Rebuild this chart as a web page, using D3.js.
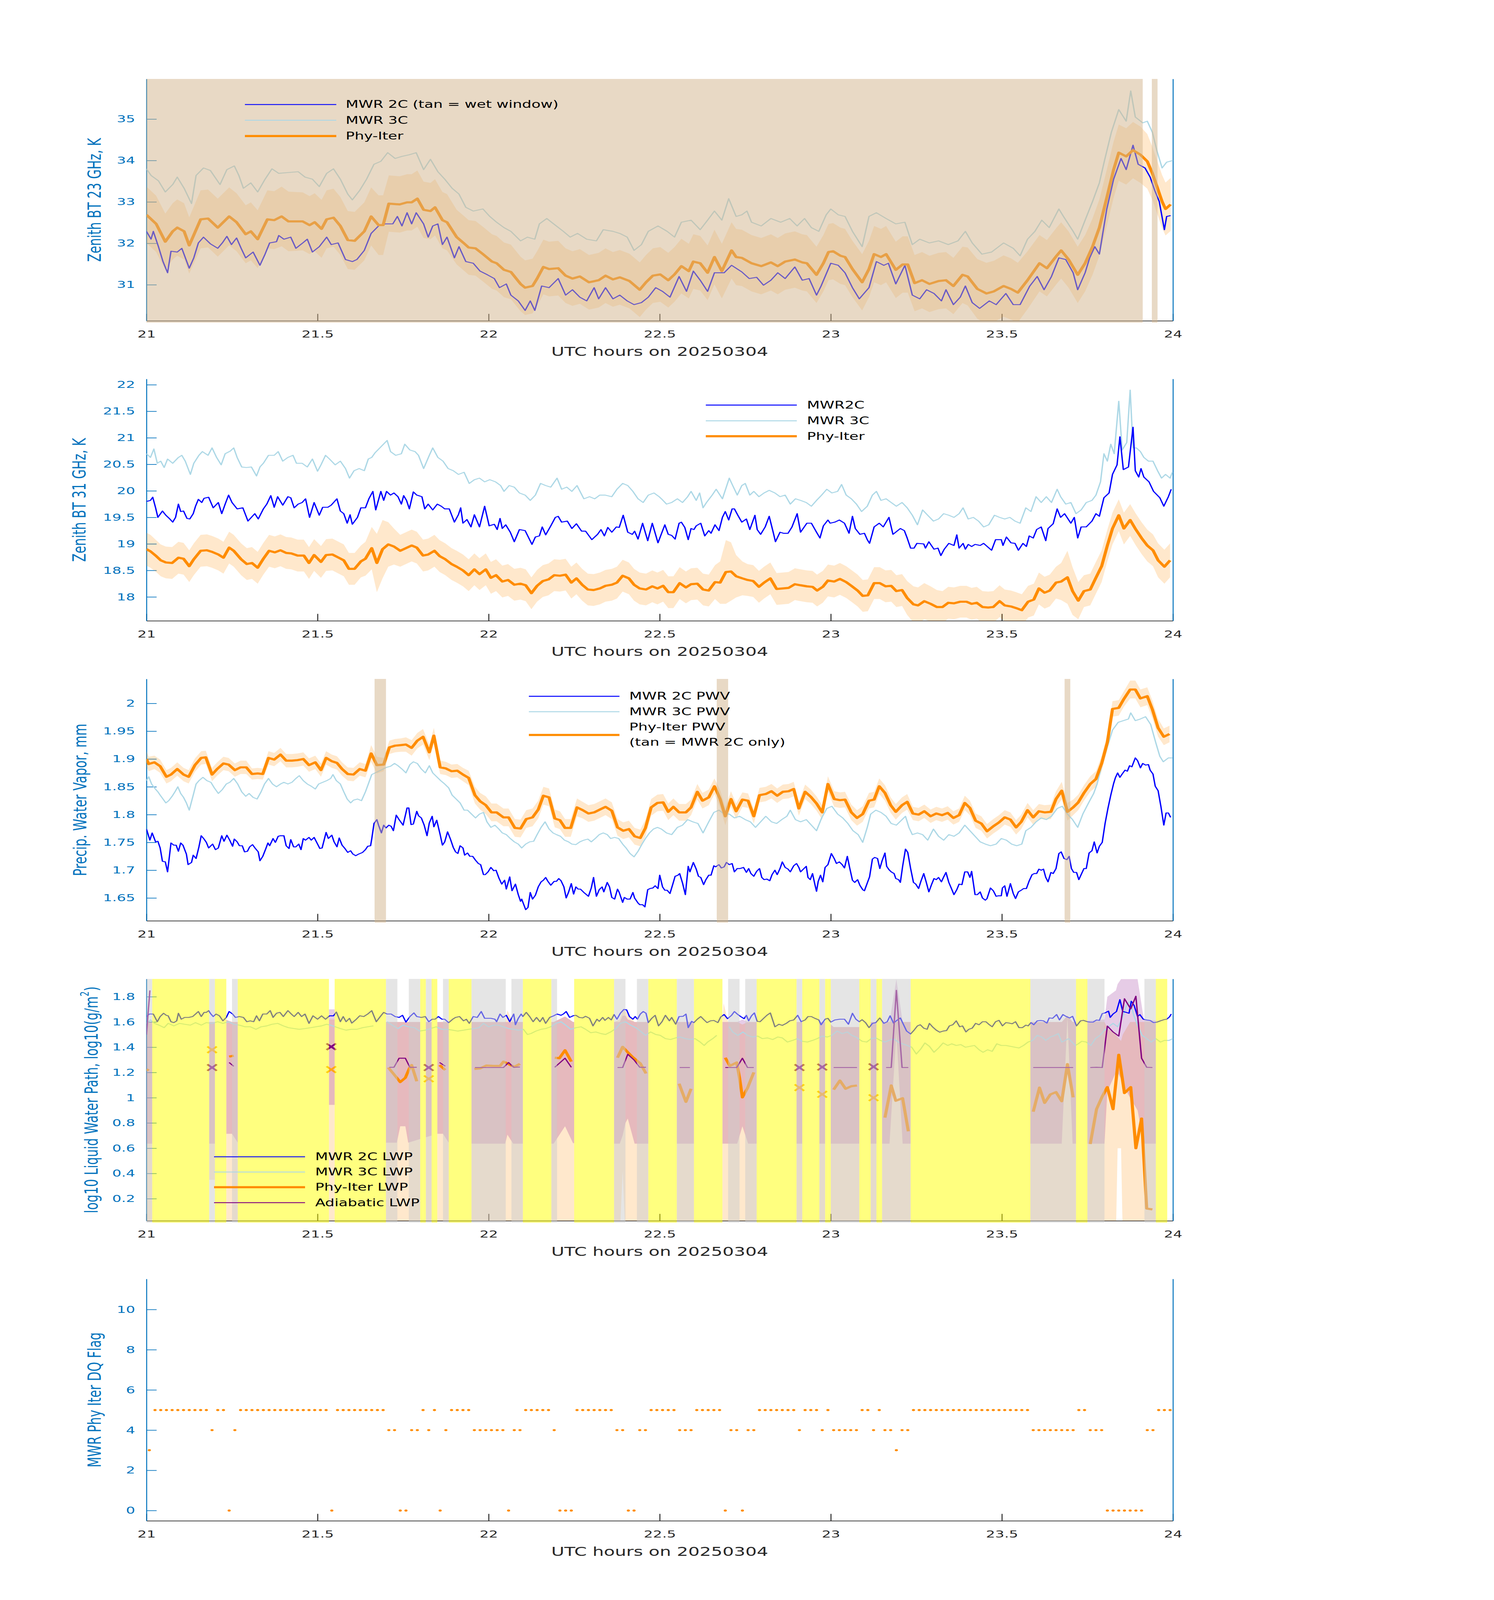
<!DOCTYPE html>
<html>
<head>
<meta charset="utf-8">
<script src="https://cdn.jsdelivr.net/npm/d3@7"></script>
<style>
  html, body { margin: 0; padding: 0; background: #fff; overflow: hidden; }
  svg { display: block; }
</style>
</head>
<body>
<div id="chart"></div>
<script>
// times are minutes after 21:00 UTC on 20250304

const xTicks = [21, 21.5, 22, 22.5, 23, 23.5, 24];

// ---- panel 1: 23 GHz BT ----
const p1Mwr3c = [[0,33.80],[0.8,33.64],[2.1,33.51],[3.3,33.24],[4.6,33.42],[5.4,33.60],[6.6,33.33],[7.9,32.96],[8.7,33.64],[10.0,33.82],[11.2,33.76],[12.9,33.42],[14.1,33.78],[15.4,33.87],[16.2,33.64],[17.0,33.33],[18.3,33.46],[19.5,33.24],[20.8,33.55],[22.0,33.80],[23.2,33.69],[24.9,33.71],[26.6,33.73],[27.8,33.60],[29.1,33.55],[30.3,33.37],[31.6,33.69],[32.8,33.80],[34.0,33.55],[35.3,33.19],[36.1,33.05],[37.4,33.28],[38.6,33.55],[39.9,33.91],[41.1,33.98],[42.3,34.19],[43.6,34.05],[44.8,34.10],[46.1,34.14],[47.3,34.19],[48.6,33.78],[49.8,34.03],[51.1,33.73],[52.3,33.55],[53.6,33.33],[54.8,33.19],[56.0,32.87],[57.3,32.78],[59.0,32.83],[60.2,32.65],[61.4,32.51],[62.7,32.38],[63.9,32.29],[65.6,32.06],[66.8,32.15],[68.1,32.10],[68.9,32.47],[70.2,32.60],[71.4,32.47],[73.1,32.29],[74.3,32.15],[75.6,32.24],[77.2,32.10],[78.9,32.06],[80.1,32.33],[81.8,32.29],[83.0,32.24],[84.3,32.15],[85.5,31.83],[86.8,31.97],[88.0,32.29],[89.7,32.42],[91.3,32.29],[92.6,32.15],[93.8,32.51],[95.5,32.56],[97.1,32.33],[98.4,32.56],[99.6,32.78],[100.9,32.56],[102.1,33.08],[103.4,32.65],[104.4,32.69],[105.3,32.78],[106.1,32.51],[107.8,32.42],[109.5,32.60],[111.2,32.51],[112.8,32.60],[114.1,32.42],[115.4,32.60],[116.6,32.38],[117.9,32.29],[119.2,32.69],[120.0,32.83],[121.3,32.69],[122.5,32.65],[123.8,32.29],[125.5,31.92],[126.7,32.65],[128.0,32.74],[129.7,32.60],[131.4,32.47],[133.0,32.51],[134.3,31.97],[135.6,32.10],[137.3,32.01],[138.9,32.06],[140.6,31.97],[142.3,32.06],[143.6,32.29],[144.8,32.01],[146.5,31.74],[148.2,31.79],[150.3,32.01],[152.0,31.88],[153.2,31.70],[154.5,32.10],[155.8,32.29],[157.0,32.56],[158.3,32.38],[160.0,32.83],[160.8,32.65],[162.5,32.29],[163.3,32.10],[164.6,32.56],[165.9,33.01],[167.1,33.46],[168.0,34.00],[169.2,34.68],[170.5,35.23],[171.8,34.95],[172.6,35.68],[173.4,35.05],[174.7,34.91],[175.5,34.95],[176.4,34.68],[177.2,34.23],[178.1,33.82],[178.9,33.96],[180.0,34.00]];

const p1Mwr2c = [[0,32.29],[0.8,32.10],[1.2,32.29],[2.1,31.92],[2.9,31.56],[3.7,31.29],[4.3,31.81],[5.4,31.79],[6.2,31.88],[7.5,31.40],[8.3,31.65],[9.1,32.01],[10.0,32.15],[11.2,31.99],[12.5,31.88],[13.3,32.01],[14.1,32.17],[14.9,31.97],[15.8,32.13],[16.6,31.88],[17.4,31.65],[18.7,31.79],[19.9,31.47],[20.8,31.74],[21.6,32.01],[22.8,32.04],[23.2,32.19],[24.1,32.10],[25.3,32.15],[26.2,31.88],[27.4,32.01],[28.2,32.10],[29.1,31.79],[30.3,31.92],[31.6,32.15],[32.4,31.97],[33.6,32.01],[34.9,31.61],[36.1,31.56],[36.9,31.61],[38.2,31.83],[39.4,32.24],[40.7,32.42],[41.9,32.47],[43.2,32.47],[44.0,32.65],[44.8,32.42],[45.7,32.74],[46.5,32.47],[47.3,32.74],[48.6,32.47],[49.4,32.15],[50.2,32.42],[51.1,32.47],[51.9,31.97],[52.7,32.15],[54.0,31.65],[54.8,31.92],[56.0,31.56],[57.3,31.52],[58.5,31.33],[59.8,31.24],[61.0,31.15],[61.9,30.93],[63.1,31.02],[63.9,30.75],[65.2,30.61],[66.4,30.38],[67.3,30.61],[68.1,30.38],[69.3,30.97],[70.6,30.93],[72.2,31.15],[73.5,30.75],[74.7,30.88],[76.0,30.70],[77.2,30.61],[78.5,30.93],[79.3,30.66],[80.5,30.93],[81.8,30.66],[83.0,30.75],[84.3,30.61],[85.5,30.52],[86.8,30.57],[88.0,30.70],[89.3,30.93],[90.5,30.84],[91.8,30.70],[93.4,31.20],[94.7,30.84],[95.9,31.33],[97.1,31.11],[98.4,30.84],[99.6,31.29],[101.3,31.29],[102.6,31.47],[104.4,31.31],[105.7,31.15],[107.0,31.18],[108.2,30.99],[109.5,31.11],[110.7,31.29],[112.0,31.15],[113.7,31.43],[115.0,31.11],[116.2,31.15],[117.5,30.75],[118.3,30.97],[120.0,31.52],[121.3,31.47],[122.5,31.29],[123.8,30.93],[125.0,30.66],[126.7,30.93],[128.0,31.56],[129.3,31.47],[130.1,31.52],[131.4,31.02],[133.0,31.47],[134.3,30.75],[135.6,30.66],[136.8,30.88],[138.1,30.79],[139.4,30.61],[140.2,30.88],[141.5,30.52],[142.7,30.70],[143.6,30.97],[144.8,30.57],[146.1,30.43],[147.8,30.61],[149.0,30.52],[150.7,30.79],[152.0,30.52],[153.2,30.52],[154.9,30.97],[156.2,31.20],[157.4,30.88],[158.7,31.20],[160.0,31.65],[161.2,31.61],[162.5,31.29],[163.3,30.88],[164.6,31.29],[165.4,31.65],[166.3,31.92],[167.1,31.74],[168.4,32.83],[169.6,33.55],[170.9,34.05],[171.8,33.78],[173.0,34.37],[173.9,33.91],[175.1,33.82],[176.0,33.60],[176.8,33.28],[177.6,33.01],[178.5,32.33],[178.9,32.65],[179.6,32.67]];

// [t, value, uncertainty]
const p1Phy = [[0,32.69,.68],[1.7,32.47,.68],[3.3,32.04,.68],[4.6,32.29,.68],[5.4,32.38,.68],[6.6,32.29,.68],[7.5,31.95,.68],[9.5,32.58,.70],[10.8,32.60,.70],[12.5,32.38,.70],[14.5,32.65,.70],[15.8,32.51,.70],[17.4,32.22,.70],[18.3,32.29,.70],[19.5,32.10,.70],[21.2,32.58,.70],[22.4,32.56,.70],[23.7,32.65,.72],[24.9,32.53,.72],[27.4,32.53,.70],[28.6,32.44,.70],[29.5,32.51,.70],[30.7,32.35,.70],[31.6,32.58,.70],[32.8,32.62,.70],[34.0,32.42,.70],[35.3,32.08,.70],[36.5,32.06,.70],[38.2,32.29,.70],[39.4,32.65,.70],[40.7,32.44,.72],[41.5,32.44,.72],[42.5,32.96,.68],[44.4,32.94,.68],[45.7,32.99,.68],[46.5,32.99,.68],[47.5,33.08,.68],[48.6,32.81,.68],[49.8,32.78,.68],[50.6,32.87,.68],[51.9,32.56,.68],[52.7,32.51,.68],[54.4,32.15,.66],[55.6,32.01,.66],[56.5,31.90,.66],[57.7,31.88,.66],[59.0,31.74,.66],[60.6,31.56,.66],[61.4,31.52,.66],[62.7,31.36,.66],[63.9,31.31,.66],[65.6,31.02,.66],[66.4,30.93,.66],[67.7,30.97,.66],[68.5,31.15,.66],[69.6,31.43,.66],[70.6,31.38,.66],[72.2,31.40,.66],[73.5,31.22,.66],[74.7,31.15,.66],[76.0,31.20,.66],[77.6,31.06,.66],[79.3,31.11,.66],[80.5,31.22,.66],[81.8,31.13,.66],[83.0,31.18,.66],[84.7,31.09,.66],[86.5,30.88,.66],[87.6,31.06,.66],[88.8,31.22,.66],[90.1,31.25,.66],[91.5,31.11,.66],[92.6,31.25,.66],[93.8,31.45,.66],[95.1,31.33,.66],[95.9,31.56,.66],[97.1,31.52,.66],[98.4,31.29,.66],[99.6,31.67,.66],[100.9,31.33,.66],[102.6,31.83,.68],[103.4,31.67,.68],[104.4,31.65,.68],[106.1,31.52,.68],[107.8,31.45,.68],[109.5,31.54,.68],[110.7,31.45,.68],[112.0,31.56,.68],[113.7,31.61,.68],[115.0,31.54,.68],[115.8,31.52,.68],[117.5,31.24,.68],[118.7,31.52,.68],[119.6,31.79,.68],[120.4,31.81,.68],[121.7,31.70,.68],[122.5,31.67,.68],[123.8,31.38,.68],[125.5,31.06,.68],[126.7,31.38,.68],[127.6,31.74,.68],[128.8,31.67,.68],[129.7,31.74,.68],[131.4,31.36,.68],[132.6,31.49,.68],[133.5,31.49,.68],[134.7,31.04,.68],[136.0,31.11,.68],[137.3,31.02,.68],[138.9,31.09,.68],[140.2,31.11,.68],[141.5,30.97,.68],[143.1,31.24,.68],[144.0,31.20,.70],[145.7,30.90,.72],[147.3,30.79,.74],[148.6,30.84,.74],[150.3,30.97,.74],[151.6,30.90,.74],[152.8,30.81,.72],[154.5,31.11,.70],[156.6,31.52,.68],[157.9,31.40,.68],[159.6,31.70,.68],[160.4,31.83,.68],[161.7,31.61,.68],[163.3,31.24,.68],[164.6,31.52,.68],[165.9,31.92,.68],[167.1,32.38,.68],[168.4,33.10,.68],[169.6,33.78,.68],[170.5,34.19,.68],[171.8,34.10,.68],[173.0,34.25,.68],[174.3,34.14,.68],[175.5,33.98,.66],[176.4,33.69,.64],[177.2,33.37,.64],[178.1,33.01,.64],[178.7,32.83,.64],[179.6,32.94,.64]];

const wetWindow = [[0, 174.7], [176.3, 177.3]];

// ---- panel 2: 31 GHz BT ----
const p2Mwr3c = [[0,20.70],[0.7,20.63],[1.3,20.79],[1.9,20.52],[2.5,20.56],[3.1,20.44],[3.7,20.60],[4.6,20.52],[5.6,20.63],[6.2,20.67],[6.8,20.56],[7.7,20.31],[8.3,20.52],[9.2,20.67],[9.8,20.74],[10.8,20.67],[11.5,20.81],[12.3,20.63],[13.1,20.49],[13.8,20.70],[14.7,20.75],[15.3,20.81],[15.9,20.63],[16.7,20.45],[17.5,20.44],[18.4,20.45],[19.3,20.28],[19.9,20.45],[20.5,20.52],[21.4,20.67],[22.4,20.67],[23.1,20.74],[23.9,20.56],[24.8,20.63],[25.7,20.67],[26.3,20.52],[27.3,20.52],[28.2,20.45],[29.1,20.60],[30.0,20.37],[30.6,20.49],[31.4,20.67],[32.1,20.60],[33.1,20.49],[34.0,20.56],[34.9,20.42],[35.6,20.24],[36.4,20.38],[37.3,20.42],[38.2,20.38],[38.9,20.60],[39.5,20.63],[40.1,20.72],[42.2,20.95],[42.8,20.74],[43.7,20.67],[44.7,20.70],[45.3,20.88],[46.2,20.77],[47.1,20.74],[47.7,20.67],[48.6,20.42],[49.6,20.67],[50.2,20.81],[51.1,20.63],[52.0,20.56],[52.9,20.42],[53.8,20.38],[54.7,20.31],[55.7,20.35],[56.6,20.14],[57.5,20.21],[58.4,20.24],[59.3,20.17],[60.2,20.21],[61.2,20.17],[62.1,20.10],[62.7,19.99],[63.6,20.10],[64.5,20.07],[65.4,19.96],[66.4,19.92],[67.3,19.82],[68.2,19.92],[69.1,20.14],[70.0,20.10],[70.9,20.07],[72.0,20.24],[72.8,20.03],[73.7,20.07],[74.6,19.99],[75.5,20.10],[76.7,19.85],[77.7,19.89],[78.6,19.85],[79.5,19.92],[80.4,19.92],[81.6,19.89],[82.5,20.03],[83.5,20.14],[84.4,20.10],[85.3,19.99],[86.2,19.85],[87.1,19.78],[88.0,19.92],[89.0,19.96],[89.9,19.89],[90.3,19.85],[91.2,19.75],[92.1,19.78],[93.1,19.85],[94.0,19.78],[94.9,19.89],[95.5,19.99],[96.4,19.82],[97.0,19.96],[97.6,19.68],[98.2,19.78],[99.2,19.92],[99.9,20.03],[101.0,19.85],[102.2,20.24],[102.8,20.10],[103.6,19.92],[104.4,20.10],[105.0,20.14],[105.8,19.92],[106.5,19.99],[107.4,19.89],[108.3,19.96],[109.2,20.01],[110.2,19.96],[111.1,19.89],[112.0,19.92],[112.9,19.75],[113.8,19.85],[114.7,19.82],[115.7,19.78],[116.6,19.71],[117.5,19.82],[118.4,19.92],[119.3,20.03],[120.2,19.96],[121.2,19.99],[121.9,20.12],[122.7,19.92],[123.6,19.85],[124.5,19.75],[125.4,19.61],[126.4,19.71],[127.3,19.92],[128.0,19.99],[128.8,19.82],[129.7,19.85],[130.6,19.78],[131.5,19.71],[132.5,19.78],[133.4,19.68],[134.3,19.54],[135.2,19.36],[136.1,19.64],[137.0,19.54],[138.0,19.43],[138.9,19.47],[139.8,19.57],[140.7,19.54],[141.6,19.50],[142.5,19.57],[143.2,19.68],[144.1,19.47],[145.0,19.50],[145.9,19.43],[146.8,19.32],[147.7,19.36],[148.7,19.54],[149.6,19.50],[150.5,19.47],[151.4,19.50],[152.3,19.43],[153.2,19.39],[154.2,19.68],[155.1,19.61],[156.0,19.89],[156.9,19.78],[157.8,19.89],[158.7,19.78],[159.7,20.03],[160.3,19.89],[161.2,19.75],[162.1,19.78],[163.0,19.57],[163.9,19.64],[164.8,19.78],[165.8,19.82],[166.5,19.92],[167.3,20.17],[167.9,20.70],[168.5,20.56],[169.1,20.88],[169.7,20.70],[170.5,21.69],[171.1,20.77],[171.9,20.91],[172.5,21.90],[173.0,20.81],[173.6,20.81],[174.3,20.74],[174.9,20.63],[175.7,20.56],[176.5,20.56],[177.3,20.38],[178.0,20.24],[178.7,20.31],[179.5,20.24],[179.9,20.35]];

const p2Mwr2c = [[0,19.80],[0.7,19.82],[1.1,19.88],[1.6,19.68],[2.0,19.50],[2.8,19.62],[3.4,19.54],[4.0,19.48],[4.6,19.41],[5.1,19.50],[5.6,19.75],[6.0,19.61],[6.5,19.62],[7.1,19.48],[7.6,19.47],[8.2,19.57],[8.6,19.71],[9.1,19.84],[9.7,19.78],[10.1,19.86],[10.9,19.88],[11.7,19.68],[12.6,19.78],[13.2,19.57],[13.8,19.75],[14.4,19.92],[15.0,19.78],[15.9,19.66],[16.9,19.68],[17.8,19.43],[18.4,19.50],[19.0,19.57],[19.6,19.47],[20.5,19.66],[21.1,19.75],[21.8,19.91],[22.4,19.69],[23.0,19.89],[23.9,19.73],[24.8,19.89],[25.3,19.87],[25.9,19.68],[26.6,19.75],[27.3,19.78],[27.9,19.85],[28.6,19.50],[29.4,19.78],[30.3,19.54],[30.9,19.69],[31.8,19.69],[32.4,19.73],[33.4,19.85],[34.0,19.62],[34.6,19.57],[35.2,19.39],[35.7,19.55],[36.1,19.37],[37.0,19.50],[37.6,19.68],[38.4,19.68],[39.0,19.85],[39.7,19.99],[40.2,19.64],[41.1,19.99],[41.6,19.82],[42.1,19.99],[42.8,19.92],[43.4,19.96],[44.1,19.89],[44.7,19.75],[45.1,19.91],[45.6,19.82],[46.1,19.66],[46.8,19.98],[47.4,19.92],[48.3,19.89],[48.8,19.66],[49.4,19.75],[50.2,19.64],[51.0,19.75],[51.7,19.71],[52.3,19.66],[53.1,19.66],[54.0,19.41],[54.7,19.55],[55.1,19.68],[55.5,19.39],[56.2,19.46],[56.9,19.32],[57.5,19.55],[58.4,19.32],[59.3,19.71],[60.1,19.34],[61.0,19.37],[61.5,19.27],[62.0,19.48],[62.4,19.29],[63.0,19.36],[63.8,19.22],[64.5,19.04],[65.4,19.27],[66.4,19.25],[67.6,18.99],[68.2,19.13],[68.9,19.15],[69.4,19.32],[70.0,19.17],[70.9,19.34],[71.7,19.50],[72.2,19.52],[72.8,19.41],[73.8,19.43],[74.6,19.29],[75.4,19.38],[76.3,19.24],[77.0,19.24],[78.1,19.08],[79.1,19.18],[79.7,19.27],[80.3,19.15],[80.9,19.31],[81.6,19.22],[82.4,19.32],[82.9,19.31],[83.6,19.54],[84.4,19.22],[85.2,19.18],[85.6,19.24],[86.2,19.09],[87.0,19.39],[87.9,19.06],[88.7,19.39],[89.7,19.02],[90.9,19.36],[91.5,19.18],[92.1,19.16],[92.7,19.09],[93.4,19.39],[93.8,19.41],[94.4,19.31],[95.0,19.08],[95.5,19.29],[96.0,19.27],[96.4,19.34],[97.2,19.39],[97.9,19.15],[98.6,19.25],[99.0,19.20],[99.7,19.36],[100.4,19.25],[101.0,19.50],[101.5,19.61],[102.1,19.45],[102.7,19.66],[103.1,19.66],[103.7,19.54],[104.4,19.41],[105.2,19.47],[105.8,19.27],[106.7,19.54],[107.1,19.27],[107.7,19.18],[108.5,19.32],[109.2,19.52],[109.9,19.22],[110.3,19.04],[111.1,19.22],[111.7,19.20],[112.5,19.20],[113.2,19.32],[114.1,19.57],[114.7,19.22],[115.8,19.39],[116.6,19.39],[117.5,19.22],[118.1,19.11],[118.7,19.34],[119.5,19.45],[119.9,19.39],[120.7,19.41],[121.5,19.45],[122.4,19.39],[123.2,19.20],[123.8,19.52],[124.3,19.29],[125.1,19.18],[125.9,19.20],[126.4,19.08],[126.8,19.01],[127.6,19.32],[128.5,19.39],[129.2,19.32],[130.2,19.50],[130.9,19.18],[132.2,19.29],[132.9,19.25],[133.4,19.11],[134.0,18.92],[134.6,18.92],[135.1,19.01],[136.3,19.00],[136.6,18.92],[137.2,19.04],[138.1,18.90],[138.8,18.92],[139.3,18.78],[139.9,18.90],[140.7,19.01],[141.6,18.97],[142.1,19.17],[142.5,18.92],[143.2,19.01],[143.6,18.90],[144.1,18.99],[144.7,18.95],[145.3,18.99],[146.2,18.97],[146.8,19.01],[148.2,18.88],[148.9,19.08],[149.9,19.08],[150.2,18.97],[150.8,19.13],[151.6,19.02],[152.3,19.01],[152.9,18.88],[153.7,19.01],[154.3,18.95],[154.8,19.15],[155.5,19.11],[156.1,19.27],[156.9,19.32],[157.7,19.06],[158.1,19.29],[159.0,19.38],[159.7,19.66],[160.3,19.50],[161.0,19.57],[162.1,19.39],[162.7,19.50],[163.3,19.11],[163.9,19.32],[164.8,19.32],[165.8,19.43],[166.5,19.57],[167.1,19.52],[167.9,19.87],[168.8,19.96],[169.4,20.31],[170.2,20.49],[170.7,21.02],[171.3,20.40],[172.2,20.45],[173.0,21.20],[173.4,20.38],[174.0,20.26],[174.4,20.42],[174.9,20.26],[175.8,20.17],[176.6,19.99],[177.7,19.87],[178.4,19.71],[179.2,19.89],[179.7,20.03]];

const p2Phy = [[0,18.90,.31],[0.7,18.86,.31],[1.6,18.78,.3],[2.5,18.69,.3],[3.4,18.65,.3],[4.5,18.64,.3],[5.6,18.74,.3],[6.5,18.72,.3],[7.5,18.58,.3],[8.3,18.71,.3],[9.5,18.87,.3],[10.6,18.88,.3],[11.5,18.85,.3],[12.6,18.80,.3],[13.5,18.74,.3],[14.5,18.93,.3],[15.3,18.87,.3],[16.6,18.71,.3],[17.6,18.62,.3],[18.5,18.64,.3],[19.5,18.55,.3],[20.5,18.72,.3],[21.5,18.87,.3],[22.5,18.84,.3],[23.5,18.88,.3],[24.5,18.83,.3],[25.4,18.82,.3],[26.5,18.78,.3],[27.6,18.78,.3],[28.5,18.64,.3],[29.4,18.79,.3],[30.6,18.66,.3],[31.5,18.79,.3],[32.6,18.80,.3],[33.7,18.74,.3],[34.6,18.69,.3],[35.5,18.53,.3],[36.5,18.53,.3],[37.6,18.67,.3],[38.4,18.72,.32],[39.5,18.92,.4],[40.4,18.64,.55],[41.4,18.90,.55],[42.4,18.99,.42],[43.4,18.95,.34],[44.5,18.87,.3],[45.5,18.92,.3],[46.5,18.97,.3],[47.4,18.93,.3],[48.5,18.78,.3],[49.4,18.80,.3],[50.5,18.87,.3],[51.4,18.77,.3],[52.4,18.71,.3],[53.5,18.62,.3],[54.4,18.57,.3],[55.5,18.50,.3],[56.5,18.41,.3],[57.5,18.52,.3],[58.4,18.43,.3],[59.5,18.52,.3],[60.4,18.36,.3],[61.3,18.41,.3],[62.4,18.29,.3],[63.4,18.32,.3],[64.5,18.23,.3],[65.6,18.25,.3],[66.5,18.22,.3],[67.5,18.07,.3],[68.5,18.21,.3],[69.5,18.30,.3],[70.5,18.33,.3],[71.5,18.41,.3],[72.5,18.40,.3],[73.5,18.42,.3],[74.5,18.27,.3],[75.4,18.35,.3],[76.4,18.23,.3],[77.4,18.14,.3],[78.4,18.13,.3],[79.5,18.16,.3],[80.5,18.21,.3],[81.6,18.23,.3],[82.5,18.27,.3],[83.5,18.40,.3],[84.6,18.35,.3],[85.5,18.23,.3],[86.5,18.16,.3],[87.6,18.14,.3],[88.7,18.20,.3],[89.6,18.16,.3],[90.6,18.21,.3],[91.5,18.09,.3],[92.4,18.09,.3],[93.5,18.26,.3],[94.6,18.18,.3],[95.5,18.24,.3],[96.6,18.25,.3],[97.6,18.14,.3],[98.6,18.12,.3],[99.7,18.28,.32],[100.6,18.27,.4],[101.6,18.47,.6],[102.5,18.48,.55],[103.4,18.39,.4],[104.5,18.35,.32],[105.4,18.32,.3],[106.4,18.30,.3],[107.4,18.19,.3],[108.3,18.27,.3],[109.4,18.35,.3],[110.5,18.15,.3],[111.5,18.16,.3],[112.6,18.17,.3],[113.7,18.24,.3],[114.7,18.22,.3],[115.8,18.20,.3],[116.8,18.19,.3],[117.6,18.12,.3],[118.6,18.19,.3],[119.5,18.31,.3],[120.6,18.29,.3],[121.6,18.34,.3],[122.7,18.28,.3],[123.6,18.21,.3],[124.7,18.12,.3],[125.6,18.02,.3],[126.5,18.03,.3],[127.6,18.26,.3],[128.6,18.26,.3],[129.6,18.20,.3],[130.6,18.21,.3],[131.5,18.11,.3],[132.5,18.13,.3],[133.4,17.98,.32],[134.5,17.86,.34],[135.3,17.84,.34],[136.4,17.92,.34],[137.5,17.87,.33],[138.6,17.81,.32],[139.6,17.81,.3],[140.6,17.89,.3],[141.6,17.88,.3],[142.7,17.91,.3],[143.8,17.91,.3],[144.7,17.87,.3],[145.6,17.89,.3],[146.6,17.81,.3],[147.6,17.80,.3],[148.5,17.81,.3],[149.6,17.92,.3],[150.5,17.84,.3],[151.6,17.82,.3],[152.5,17.79,.3],[153.5,17.75,.3],[154.6,17.91,.3],[155.6,17.95,.3],[156.5,18.16,.3],[157.5,18.08,.3],[158.4,18.12,.3],[159.5,18.27,.3],[160.4,18.29,.35],[161.5,18.37,.5],[162.4,18.11,.45],[163.4,17.93,.35],[164.4,18.11,.3],[165.5,18.14,.3],[166.4,18.34,.3],[167.5,18.58,.3],[168.5,18.97,.3],[169.4,19.29,.3],[170.5,19.54,.3],[171.4,19.29,.3],[172.5,19.45,.3],[173.5,19.27,.3],[174.5,19.11,.3],[175.5,18.97,.3],[176.5,18.88,.3],[177.4,18.69,.32],[178.5,18.57,.32],[179.5,18.69,.32]];

// ---- panel 3: PWV ----
const p3Mwr2c = [[0,1.774],[0.6,1.754],[1.0,1.767],[1.6,1.751],[2.0,1.752],[2.4,1.740],[2.8,1.716],[3.3,1.715],[3.7,1.697],[4.3,1.749],[4.8,1.745],[5.2,1.745],[5.6,1.734],[6.0,1.749],[6.4,1.745],[7.0,1.729],[7.3,1.710],[7.9,1.714],[8.2,1.727],[8.7,1.721],[9.2,1.742],[9.6,1.762],[10.1,1.756],[10.5,1.750],[10.9,1.740],[11.6,1.747],[12.1,1.737],[12.6,1.740],[13.2,1.762],[13.6,1.752],[14.1,1.763],[14.6,1.754],[15.1,1.743],[15.4,1.756],[15.9,1.751],[16.3,1.744],[16.8,1.744],[17.2,1.733],[17.7,1.734],[18.1,1.742],[18.6,1.746],[19.1,1.739],[19.6,1.733],[19.9,1.717],[20.4,1.725],[20.9,1.738],[21.3,1.749],[21.6,1.744],[22.2,1.757],[22.6,1.750],[23.1,1.761],[23.5,1.762],[24.1,1.762],[24.5,1.744],[25.0,1.739],[25.3,1.755],[25.8,1.742],[26.2,1.742],[26.7,1.747],[27.1,1.737],[27.5,1.757],[27.9,1.754],[28.5,1.759],[28.9,1.754],[29.4,1.759],[29.9,1.749],[30.4,1.739],[30.8,1.740],[31.5,1.768],[31.9,1.757],[32.5,1.763],[32.9,1.751],[33.4,1.742],[33.8,1.758],[34.3,1.745],[34.8,1.739],[35.3,1.732],[35.8,1.735],[36.2,1.729],[36.7,1.726],[37.2,1.729],[37.9,1.732],[38.4,1.737],[38.8,1.743],[39.3,1.744],[39.5,1.756],[39.9,1.784],[40.4,1.791],[40.7,1.781],[41.2,1.767],[41.6,1.781],[42.0,1.776],[42.5,1.781],[42.9,1.779],[43.3,1.771],[43.8,1.799],[44.3,1.791],[45.0,1.781],[45.7,1.812],[46.0,1.812],[46.4,1.782],[46.8,1.783],[47.4,1.806],[47.7,1.798],[48.2,1.794],[48.7,1.781],[49.2,1.762],[49.6,1.785],[50.1,1.797],[50.4,1.778],[50.9,1.790],[51.5,1.764],[51.9,1.745],[52.3,1.751],[52.8,1.769],[53.3,1.756],[53.8,1.741],[54.2,1.733],[54.6,1.730],[55.0,1.744],[55.5,1.740],[55.8,1.727],[56.3,1.731],[56.7,1.725],[57.2,1.725],[57.7,1.718],[58.2,1.712],[58.6,1.710],[59.1,1.692],[59.4,1.692],[59.9,1.697],[60.4,1.705],[60.9,1.699],[61.3,1.700],[61.8,1.686],[62.3,1.675],[62.8,1.682],[63.1,1.666],[63.7,1.688],[64.1,1.663],[64.7,1.675],[65.2,1.656],[65.6,1.644],[65.8,1.648],[66.5,1.629],[66.9,1.633],[67.3,1.660],[67.7,1.648],[68.2,1.655],[68.7,1.670],[69.2,1.679],[69.6,1.682],[70.0,1.687],[70.4,1.680],[70.9,1.673],[71.5,1.680],[71.9,1.680],[72.3,1.685],[72.7,1.681],[73.2,1.670],[73.6,1.650],[74.0,1.660],[74.5,1.676],[74.9,1.657],[75.3,1.670],[75.7,1.666],[76.1,1.666],[76.7,1.660],[77.5,1.653],[78.0,1.668],[78.4,1.687],[78.9,1.653],[79.4,1.665],[79.9,1.670],[80.2,1.661],[80.8,1.678],[81.2,1.670],[81.6,1.651],[82.1,1.648],[82.6,1.666],[82.9,1.660],[83.5,1.642],[83.8,1.651],[84.3,1.648],[84.8,1.648],[85.3,1.660],[85.6,1.650],[86.2,1.641],[86.5,1.638],[87.0,1.638],[87.4,1.634],[87.9,1.665],[88.3,1.667],[88.8,1.668],[89.2,1.672],[89.7,1.667],[90.0,1.691],[90.5,1.670],[90.9,1.664],[91.3,1.664],[91.8,1.658],[92.3,1.675],[92.7,1.689],[93.2,1.691],[93.5,1.694],[94.0,1.677],[94.5,1.656],[95.0,1.707],[95.3,1.697],[95.9,1.714],[96.4,1.702],[96.8,1.689],[97.2,1.687],[97.7,1.674],[98.1,1.683],[98.6,1.691],[99.0,1.691],[99.5,1.708],[99.8,1.706],[100.4,1.710],[100.8,1.704],[101.3,1.706],[101.7,1.714],[102.2,1.710],[102.7,1.712],[103.1,1.697],[103.6,1.703],[104.1,1.703],[104.7,1.705],[105.2,1.696],[105.6,1.703],[106.0,1.694],[106.5,1.689],[107.0,1.698],[107.5,1.703],[107.9,1.687],[108.3,1.683],[108.8,1.684],[109.3,1.681],[109.7,1.692],[110.2,1.700],[110.6,1.692],[111.1,1.703],[111.5,1.715],[112.0,1.705],[112.5,1.702],[112.9,1.697],[113.5,1.708],[114.0,1.712],[114.4,1.705],[114.7,1.697],[115.2,1.702],[115.7,1.707],[116.0,1.687],[116.4,1.683],[116.8,1.694],[117.2,1.675],[117.5,1.662],[117.8,1.680],[118.2,1.691],[118.6,1.679],[119.0,1.705],[119.5,1.710],[120.1,1.730],[120.6,1.721],[121.0,1.712],[121.5,1.715],[122.0,1.710],[122.4,1.704],[122.9,1.725],[123.3,1.705],[123.8,1.682],[124.2,1.678],[124.7,1.683],[125.1,1.673],[125.6,1.665],[125.9,1.663],[126.4,1.677],[126.8,1.688],[127.3,1.720],[127.7,1.723],[128.2,1.721],[128.6,1.703],[129.0,1.717],[129.5,1.731],[129.8,1.707],[130.2,1.701],[130.6,1.697],[131.1,1.694],[131.4,1.685],[131.9,1.683],[132.2,1.678],[132.6,1.707],[133.1,1.738],[133.5,1.732],[134.0,1.703],[134.5,1.678],[134.9,1.675],[135.4,1.667],[135.8,1.680],[136.3,1.694],[136.7,1.680],[137.2,1.661],[137.7,1.675],[138.1,1.685],[138.5,1.683],[138.9,1.687],[139.4,1.679],[139.8,1.688],[140.2,1.696],[140.7,1.678],[141.2,1.666],[141.6,1.656],[142.1,1.665],[142.5,1.675],[143.0,1.674],[143.5,1.697],[144.0,1.697],[144.4,1.687],[144.7,1.698],[145.3,1.656],[145.7,1.656],[146.2,1.661],[146.6,1.650],[147.1,1.646],[147.4,1.649],[148.0,1.668],[148.5,1.663],[149.0,1.653],[149.4,1.654],[149.9,1.654],[150.1,1.668],[150.5,1.672],[150.9,1.653],[151.5,1.676],[152.0,1.658],[152.4,1.649],[152.9,1.661],[153.4,1.664],[153.8,1.667],[154.3,1.667],[154.8,1.681],[155.3,1.692],[155.7,1.694],[156.1,1.694],[156.5,1.702],[156.9,1.700],[157.3,1.702],[157.7,1.687],[158.1,1.679],[158.6,1.696],[159.0,1.694],[159.5,1.703],[160.0,1.730],[160.4,1.733],[160.9,1.721],[161.4,1.719],[161.8,1.725],[162.2,1.703],[162.6,1.696],[163.1,1.696],[163.5,1.683],[163.9,1.692],[164.4,1.703],[164.8,1.703],[165.3,1.731],[165.8,1.735],[166.2,1.751],[166.7,1.731],[167.1,1.743],[167.6,1.750],[168.1,1.784],[168.6,1.811],[169.1,1.835],[169.6,1.856],[169.9,1.866],[170.3,1.875],[170.7,1.867],[171.1,1.873],[171.6,1.880],[172.0,1.878],[172.4,1.888],[172.8,1.886],[173.4,1.902],[173.8,1.897],[174.3,1.884],[174.7,1.892],[175.2,1.889],[175.7,1.890],[176.0,1.880],[176.5,1.873],[176.9,1.851],[177.4,1.843],[177.9,1.814],[178.4,1.781],[178.8,1.803],[179.2,1.803],[179.6,1.795]];

const p3Mwr3c = [[0,1.861],[0.4,1.868],[0.9,1.855],[1.4,1.848],[2.0,1.841],[2.4,1.835],[2.9,1.828],[3.4,1.821],[3.9,1.825],[4.5,1.833],[5.0,1.841],[5.5,1.850],[6.0,1.838],[6.5,1.831],[7.0,1.821],[7.5,1.808],[8.2,1.835],[8.7,1.855],[9.2,1.861],[9.9,1.867],[10.6,1.861],[11.3,1.858],[11.9,1.848],[12.6,1.838],[13.3,1.845],[14.0,1.855],[14.6,1.858],[15.3,1.865],[16.0,1.855],[16.7,1.841],[17.4,1.833],[18.0,1.838],[18.7,1.831],[19.4,1.828],[20.1,1.841],[20.7,1.855],[21.4,1.865],[22.1,1.855],[22.8,1.850],[23.5,1.855],[24.1,1.858],[24.8,1.855],[25.5,1.858],[26.2,1.865],[26.8,1.870],[27.5,1.861],[28.2,1.855],[28.9,1.851],[29.6,1.846],[30.2,1.855],[30.9,1.858],[31.6,1.861],[32.3,1.865],[32.7,1.872],[33.3,1.861],[34.0,1.855],[34.6,1.841],[35.2,1.828],[35.8,1.821],[36.3,1.826],[37.0,1.828],[37.7,1.825],[38.4,1.841],[38.9,1.855],[39.5,1.872],[40.1,1.875],[42.1,1.885],[42.8,1.887],[43.5,1.892],[44.1,1.888],[44.8,1.882],[45.5,1.875],[46.2,1.890],[46.8,1.895],[47.5,1.892],[48.2,1.882],[48.9,1.875],[49.6,1.888],[50.2,1.875],[50.9,1.868],[51.6,1.861],[52.3,1.855],[53.0,1.848],[53.6,1.835],[54.3,1.828],[55.0,1.821],[55.7,1.808],[56.3,1.808],[57.0,1.801],[57.7,1.794],[58.4,1.801],[59.1,1.804],[59.7,1.787],[60.4,1.777],[61.1,1.781],[61.8,1.774],[62.4,1.767],[63.1,1.764],[63.8,1.757],[64.5,1.751],[65.2,1.747],[65.8,1.740],[66.5,1.747],[67.2,1.751],[67.9,1.752],[68.5,1.764],[69.2,1.777],[69.9,1.787],[70.6,1.774],[71.3,1.767],[71.9,1.764],[72.6,1.761],[73.3,1.754],[74.0,1.751],[74.6,1.747],[75.3,1.746],[76.0,1.751],[76.7,1.754],[77.4,1.756],[78.0,1.751],[78.7,1.757],[79.4,1.764],[80.1,1.767],[80.8,1.764],[81.4,1.757],[82.1,1.759],[82.8,1.757],[83.5,1.747],[84.1,1.740],[84.8,1.730],[85.5,1.724],[86.2,1.734],[86.9,1.747],[87.5,1.757],[88.2,1.767],[88.9,1.774],[89.6,1.777],[90.3,1.774],[91.2,1.767],[92.1,1.764],[93.1,1.777],[94.0,1.781],[94.9,1.791],[95.8,1.787],[96.7,1.784],[97.6,1.767],[98.6,1.787],[99.5,1.804],[100.4,1.808],[101.3,1.801],[102.2,1.801],[103.1,1.794],[104.0,1.797],[105.0,1.791],[105.9,1.787],[106.8,1.777],[107.7,1.787],[108.6,1.797],[109.6,1.787],[110.5,1.784],[111.4,1.791],[112.3,1.797],[112.9,1.808],[113.8,1.791],[114.7,1.787],[115.7,1.791],[116.6,1.781],[117.5,1.771],[118.4,1.794],[119.3,1.811],[120.2,1.815],[121.2,1.801],[122.1,1.794],[123.0,1.784],[123.9,1.771],[124.8,1.764],[125.6,1.750],[126.4,1.777],[127.0,1.801],[127.9,1.808],[128.8,1.804],[129.7,1.797],[130.6,1.784],[131.5,1.781],[132.5,1.791],[133.1,1.797],[133.7,1.777],[134.3,1.764],[135.2,1.767],[136.1,1.764],[137.0,1.754],[138.0,1.774],[138.9,1.761],[139.8,1.754],[140.7,1.764],[141.6,1.761],[142.5,1.767],[143.5,1.781],[144.4,1.771],[145.3,1.761],[146.2,1.751],[147.1,1.747],[148.0,1.744],[149.0,1.747],[149.9,1.757],[150.8,1.754],[151.7,1.747],[152.6,1.744],[153.5,1.747],[154.2,1.771],[155.1,1.777],[156.0,1.787],[156.9,1.794],[157.8,1.791],[158.7,1.797],[159.7,1.811],[160.6,1.815],[161.5,1.801],[162.4,1.791],[163.3,1.777],[164.2,1.801],[165.2,1.821],[166.1,1.838],[166.7,1.855],[167.6,1.892],[168.5,1.922],[169.4,1.952],[170.4,1.966],[171.3,1.969],[172.2,1.972],[172.6,1.983],[173.4,1.969],[174.3,1.972],[175.2,1.976],[176.1,1.962],[177.0,1.929],[177.7,1.905],[178.3,1.895],[179.2,1.902],[179.9,1.902]];

const p3Phy = [[0,1.900,.014],[0.4,1.891,.013],[1.4,1.894,.012],[2.4,1.887,.012],[3.5,1.868,.012],[4.3,1.872,.012],[5.4,1.882,.012],[6.5,1.872,.012],[7.4,1.868,.012],[8.5,1.889,.012],[9.6,1.902,.012],[10.4,1.903,.012],[11.5,1.872,.012],[12.4,1.882,.012],[13.5,1.892,.012],[14.4,1.890,.012],[15.5,1.880,.012],[16.5,1.885,.012],[17.5,1.885,.012],[18.5,1.873,.01],[19.5,1.874,.01],[20.4,1.873,.01],[21.4,1.902,.012],[22.4,1.899,.012],[23.5,1.908,.012],[24.5,1.897,.012],[25.5,1.897,.012],[26.5,1.898,.012],[27.5,1.900,.012],[28.5,1.889,.012],[29.6,1.894,.012],[30.6,1.880,.012],[31.5,1.902,.012],[32.5,1.896,.012],[33.4,1.893,.012],[34.3,1.882,.012],[35.3,1.873,.012],[36.3,1.872,.012],[37.4,1.882,.012],[38.4,1.879,.012],[39.4,1.910,.015],[40.4,1.889,.015],[41.6,1.890,.012],[42.6,1.921,.012],[43.6,1.924,.012],[44.6,1.925,.012],[45.5,1.926,.013],[46.5,1.920,.014],[47.5,1.933,.014],[48.5,1.940,.014],[49.6,1.912,.014],[50.4,1.942,.014],[51.5,1.885,.012],[52.5,1.883,.012],[53.5,1.878,.012],[54.5,1.879,.012],[55.5,1.872,.012],[56.5,1.866,.013],[57.6,1.835,.015],[58.5,1.824,.015],[59.5,1.817,.016],[60.5,1.804,.016],[61.4,1.804,.016],[62.6,1.795,.016],[63.5,1.795,.016],[64.6,1.776,.016],[65.6,1.775,.016],[66.6,1.792,.016],[67.7,1.795,.016],[68.7,1.809,.016],[69.6,1.834,.016],[70.6,1.831,.016],[71.6,1.793,.016],[72.5,1.790,.016],[73.4,1.776,.016],[74.4,1.776,.016],[75.5,1.813,.016],[76.5,1.808,.015],[77.5,1.802,.015],[78.5,1.804,.015],[79.5,1.809,.015],[80.5,1.814,.015],[81.6,1.807,.015],[82.6,1.777,.015],[83.6,1.771,.015],[84.6,1.774,.015],[85.6,1.761,.015],[86.6,1.758,.015],[87.5,1.776,.015],[88.5,1.813,.015],[89.6,1.821,.015],[90.6,1.822,.015],[91.5,1.805,.015],[92.4,1.814,.015],[93.4,1.804,.015],[94.6,1.804,.015],[95.5,1.813,.014],[96.6,1.841,.014],[97.5,1.825,.014],[98.6,1.831,.014],[99.6,1.851,.014],[100.6,1.828,.016],[101.5,1.797,.016],[102.5,1.828,.014],[103.4,1.806,.014],[104.5,1.827,.013],[105.5,1.825,.013],[106.5,1.797,.013],[107.5,1.835,.013],[108.6,1.837,.013],[109.6,1.842,.013],[110.6,1.834,.013],[111.6,1.841,.013],[112.6,1.842,.013],[113.5,1.846,.013],[114.4,1.811,.013],[115.5,1.841,.013],[116.5,1.832,.013],[117.5,1.820,.013],[118.5,1.804,.013],[119.5,1.855,.014],[120.6,1.828,.014],[121.6,1.826,.014],[122.5,1.827,.014],[123.6,1.804,.014],[124.6,1.794,.014],[125.6,1.801,.014],[126.7,1.825,.014],[127.6,1.827,.014],[128.5,1.851,.014],[129.5,1.839,.014],[130.5,1.817,.014],[131.4,1.805,.014],[132.5,1.817,.014],[133.4,1.823,.014],[134.4,1.802,.012],[135.4,1.800,.012],[136.4,1.806,.012],[137.5,1.797,.012],[138.5,1.802,.012],[139.5,1.799,.012],[140.5,1.803,.012],[141.5,1.794,.012],[142.5,1.799,.012],[143.5,1.821,.013],[144.4,1.812,.013],[145.4,1.789,.013],[146.4,1.784,.013],[147.4,1.770,.013],[148.5,1.779,.013],[149.5,1.786,.013],[150.5,1.795,.013],[151.5,1.791,.013],[152.5,1.777,.013],[153.4,1.787,.013],[154.5,1.808,.013],[155.5,1.795,.013],[156.5,1.806,.013],[157.5,1.804,.013],[158.6,1.805,.013],[159.5,1.828,.014],[160.5,1.843,.016],[161.5,1.805,.016],[162.5,1.813,.014],[163.4,1.822,.014],[164.4,1.839,.014],[165.5,1.855,.014],[166.5,1.864,.014],[167.5,1.892,.014],[168.5,1.930,.014],[169.4,1.990,.014],[170.5,1.992,.014],[171.4,2.008,.014],[172.5,2.025,.016],[173.4,2.025,.016],[174.3,2.009,.016],[175.5,2.013,.016],[176.4,1.989,.016],[177.4,1.956,.016],[178.4,1.940,.015],[179.4,1.945,.015]];

const mwr2cOnly = [[40.0, 42.0], [100.0, 102.0], [161.0, 162.0]];

// ---- panel 4: log10 LWP ----
const lwp2c = [[0,1.643],[0.5,1.663],[1.2,1.663],[1.9,1.602],[2.4,1.643],[3.0,1.669],[3.5,1.652],[3.8,1.649],[4.3,1.602],[4.8,1.595],[5.3,1.609],[5.6,1.669],[6.1,1.622],[6.7,1.636],[7.4,1.636],[8.1,1.643],[8.6,1.663],[9.1,1.683],[9.6,1.643],[10.1,1.676],[10.5,1.676],[10.9,1.690],[11.3,1.663],[11.7,1.643],[12.2,1.663],[12.8,1.649],[13.4,1.609],[14.0,1.636],[14.5,1.683],[15.1,1.663],[15.6,1.636],[16.3,1.643],[17.0,1.636],[17.6,1.602],[18.2,1.609],[18.8,1.602],[19.3,1.649],[19.8,1.609],[20.4,1.663],[21.1,1.663],[21.7,1.690],[22.2,1.636],[22.8,1.669],[23.4,1.676],[24.0,1.643],[24.8,1.690],[25.4,1.663],[25.9,1.643],[26.6,1.676],[27.2,1.643],[27.8,1.663],[28.5,1.589],[29.2,1.649],[30.0,1.622],[30.7,1.649],[31.4,1.622],[32.1,1.649],[32.8,1.649],[33.3,1.679],[34.0,1.602],[34.5,1.643],[35.0,1.602],[35.6,1.629],[36.0,1.591],[36.8,1.622],[37.4,1.649],[38.1,1.643],[38.8,1.663],[39.5,1.690],[40.3,1.602],[41.0,1.643],[41.6,1.676],[42.2,1.663],[42.9,1.663],[43.6,1.643],[44.3,1.636],[44.9,1.653],[45.5,1.599],[46.2,1.643],[46.9,1.672],[47.4,1.643],[48.2,1.636],[48.9,1.643],[49.5,1.602],[50.1,1.622],[50.6,1.622],[51.2,1.643],[51.8,1.622],[52.3,1.622],[53.0,1.595],[53.7,1.622],[54.2,1.636],[54.9,1.643],[55.6,1.609],[56.1,1.622],[56.6,1.589],[57.3,1.643],[58.0,1.636],[58.7,1.683],[59.3,1.629],[60.4,1.629],[61.1,1.622],[61.4,1.602],[62.0,1.663],[62.5,1.636],[63.1,1.653],[63.7,1.602],[64.4,1.663],[64.7,1.578],[65.2,1.629],[65.7,1.663],[66.0,1.643],[66.6,1.676],[67.2,1.643],[67.8,1.602],[68.4,1.636],[69.0,1.602],[69.5,1.636],[70.0,1.589],[70.7,1.636],[71.4,1.649],[72.0,1.663],[72.7,1.653],[73.1,1.663],[73.6,1.683],[74.2,1.636],[74.8,1.649],[75.3,1.653],[75.9,1.636],[76.5,1.632],[77.0,1.645],[77.7,1.629],[78.3,1.569],[79.0,1.622],[79.4,1.605],[80.0,1.636],[80.4,1.613],[81.0,1.636],[81.5,1.616],[82.0,1.659],[82.5,1.622],[83.1,1.669],[83.7,1.699],[84.2,1.696],[84.7,1.643],[85.3,1.622],[85.7,1.643],[86.1,1.622],[86.6,1.663],[87.1,1.683],[87.6,1.669],[88.0,1.595],[88.6,1.629],[89.2,1.653],[89.8,1.569],[90.4,1.602],[91.0,1.653],[91.7,1.609],[92.1,1.636],[92.8,1.582],[93.4,1.643],[94.1,1.645],[94.6,1.663],[95.0,1.555],[95.6,1.605],[96.0,1.595],[96.6,1.622],[97.2,1.643],[97.8,1.616],[98.3,1.595],[98.9,1.609],[99.5,1.612],[100.2,1.595],[100.7,1.640],[101.3,1.659],[101.9,1.626],[102.6,1.653],[103.1,1.683],[103.7,1.659],[104.2,1.643],[104.8,1.626],[105.2,1.653],[105.6,1.609],[106.1,1.649],[106.6,1.672],[107.1,1.605],[107.6,1.602],[108.3,1.632],[108.8,1.653],[109.4,1.672],[110.2,1.562],[110.9,1.582],[111.5,1.573],[112.2,1.589],[112.8,1.609],[113.5,1.616],[114.2,1.653],[114.8,1.602],[115.5,1.616],[116.0,1.643],[116.6,1.643],[117.2,1.629],[117.9,1.616],[118.3,1.578],[119.0,1.622],[119.5,1.629],[120.0,1.599],[120.7,1.616],[121.6,1.622],[122.4,1.622],[123.1,1.582],[123.8,1.669],[124.4,1.622],[125.0,1.602],[125.5,1.618],[126.1,1.595],[126.7,1.555],[127.3,1.589],[127.9,1.595],[128.6,1.632],[129.3,1.589],[129.9,1.602],[130.4,1.649],[131.0,1.591],[131.6,1.613],[132.2,1.632],[132.8,1.575],[133.3,1.528],[134.0,1.505],[134.6,1.535],[135.2,1.569],[135.7,1.578],[136.3,1.551],[136.9,1.542],[137.3,1.589],[137.9,1.559],[138.5,1.535],[139.1,1.519],[139.7,1.528],[140.3,1.532],[140.8,1.569],[141.4,1.578],[142.0,1.609],[142.6,1.562],[143.1,1.569],[143.7,1.521],[144.2,1.542],[144.8,1.551],[145.4,1.589],[146.0,1.578],[146.6,1.602],[147.2,1.602],[147.7,1.582],[148.3,1.562],[148.9,1.602],[149.5,1.613],[150.1,1.569],[150.7,1.595],[151.3,1.591],[151.8,1.586],[152.4,1.602],[153.0,1.555],[153.6,1.555],[154.2,1.575],[154.6,1.569],[155.1,1.595],[155.6,1.578],[156.2,1.609],[156.8,1.612],[157.3,1.609],[157.9,1.591],[158.3,1.632],[158.9,1.629],[159.6,1.659],[160.1,1.616],[160.7,1.659],[161.3,1.643],[161.9,1.632],[162.4,1.645],[163.1,1.569],[163.8,1.609],[164.3,1.613],[165.0,1.602],[165.5,1.599],[166.0,1.599],[166.6,1.616],[167.1,1.613],[167.6,1.666],[168.1,1.672],[168.7,1.686],[169.0,1.636],[169.5,1.663],[170.1,1.683],[170.7,1.777],[171.2,1.683],[171.8,1.676],[172.3,1.669],[172.7,1.764],[173.2,1.730],[173.8,1.643],[174.2,1.659],[174.8,1.622],[175.4,1.616],[176.0,1.612],[176.6,1.595],[177.2,1.599],[177.8,1.609],[178.4,1.618],[178.9,1.622],[179.4,1.640],[179.7,1.663]];

const lwp3c = [[0,1.589],[0.7,1.616],[1.4,1.589],[2.2,1.575],[3.1,1.555],[3.8,1.589],[4.8,1.569],[5.8,1.589],[6.7,1.582],[7.7,1.575],[8.6,1.595],[9.6,1.575],[10.5,1.595],[11.5,1.589],[12.5,1.602],[13.4,1.589],[14.4,1.602],[15.3,1.582],[16.3,1.575],[17.3,1.562],[18.2,1.562],[19.2,1.542],[20.1,1.562],[21.1,1.569],[22.0,1.582],[23.0,1.589],[24.0,1.569],[24.9,1.555],[25.9,1.548],[26.8,1.542],[27.8,1.548],[28.8,1.555],[29.7,1.562],[30.7,1.569],[31.6,1.582],[32.3,1.575],[33.1,1.562],[34.0,1.548],[35.0,1.535],[35.9,1.542],[36.9,1.542],[37.9,1.555],[38.8,1.562],[39.8,1.569],[40.5,null],[42.2,1.602],[43.1,1.575],[44.1,1.548],[45.0,1.575],[46.0,1.562],[47.0,1.555],[47.9,1.528],[48.9,1.535],[49.8,1.548],[50.8,1.562],[51.8,1.542],[52.7,1.542],[53.7,1.535],[54.6,1.528],[55.6,1.535],[56.5,1.542],[57.5,1.548],[58.3,1.555],[59.1,1.589],[60.0,1.562],[60.9,1.575],[61.7,1.575],[62.6,1.562],[63.5,1.548],[64.4,1.542],[65.2,1.535],[66.1,1.542],[66.8,1.501],[67.4,1.508],[68.3,1.528],[69.2,1.542],[70.0,1.548],[70.9,1.562],[71.8,1.589],[72.7,1.602],[73.5,1.575],[74.4,1.542],[75.3,1.555],[76.2,1.562],[77.0,1.542],[77.9,1.515],[78.8,1.521],[79.7,1.508],[80.5,1.501],[81.4,1.521],[82.3,1.548],[83.1,1.589],[84.0,1.602],[84.9,1.575],[85.8,1.555],[86.6,1.528],[87.5,1.494],[88.4,1.521],[89.3,1.501],[90.1,1.494],[91.0,1.468],[91.9,1.461],[92.8,1.474],[93.6,1.481],[94.5,1.468],[95.4,1.461],[96.2,1.468],[97.1,1.441],[97.8,1.414],[98.4,1.441],[99.3,1.468],[100.0,1.494],[101.0,null],[102.2,1.562],[102.8,1.521],[103.7,1.494],[104.6,1.521],[105.4,1.494],[106.3,1.481],[107.2,1.488],[108.0,1.468],[108.9,1.474],[109.8,1.461],[110.7,1.481],[111.5,1.474],[112.4,1.441],[113.3,1.454],[114.1,1.468],[115.0,1.447],[115.9,1.441],[116.8,1.454],[117.6,1.468],[118.5,1.488],[119.4,1.481],[120.2,1.494],[121.1,1.528],[122.0,1.508],[122.9,1.521],[123.7,1.494],[124.4,1.481],[125.5,1.447],[126.3,1.441],[127.1,1.468],[127.9,1.474],[128.7,1.454],[129.5,1.441],[130.2,1.454],[131.0,1.468],[131.8,1.441],[132.6,1.427],[133.4,1.414],[134.2,1.400],[135.0,1.346],[135.8,1.387],[136.5,1.434],[137.3,1.407],[138.1,1.360],[138.9,1.394],[139.7,1.434],[140.5,1.414],[141.2,1.427],[142.0,1.414],[142.8,1.421],[143.6,1.400],[144.4,1.407],[145.2,1.414],[146.0,1.380],[146.7,1.360],[147.5,1.380],[148.3,1.367],[149.1,1.427],[149.9,1.414],[150.7,1.414],[151.5,1.407],[152.3,1.400],[153.0,1.394],[153.8,1.414],[154.6,1.441],[155.4,1.454],[156.2,1.494],[157.0,1.481],[157.7,1.454],[158.5,1.481],[159.3,1.494],[159.9,1.508],[160.5,1.441],[161.1,1.454],[161.7,1.468],[162.3,1.441],[162.9,1.414],[163.4,1.427],[164.0,1.447],[164.8,1.441],[165.6,1.414],[166.4,1.468],[167.2,1.494],[168.0,1.535],[168.7,1.562],[169.5,1.589],[170.3,1.562],[171.1,1.629],[171.9,1.737],[172.5,1.764],[173.1,1.656],[173.8,1.575],[174.6,1.494],[175.4,1.468],[176.2,1.441],[177.0,1.468],[177.8,1.441],[178.5,1.454],[179.3,1.454],[180.0,1.468]];

const lwpPhy = [[0,1.225],[0.4,1.215],[0.5,null],[14.5,1.326],[15.3,1.333],[15.4,null],[42.4,1.239],[43.4,1.185],[44.5,1.124],[45.4,1.158],[46.1,1.232],[46.5,1.259],[47.4,1.13],[47.5,null],[51.4,1.259],[52.4,1.219],[52.5,null],[57.5,1.228],[58.5,1.232],[59.6,1.255],[60.9,1.252],[62.0,1.252],[62.6,1.286],[63.3,1.272],[63.8,1.259],[64.5,1.245],[65.5,1.268],[65.6,null],[71.6,1.317],[72.4,1.313],[73.4,1.376],[74.5,1.286],[74.6,null],[82.6,1.317],[83.5,1.403],[84.4,1.360],[85.3,1.320],[86.6,1.272],[87.6,1.192],[87.7,null],[93.4,1.111],[94.6,0.967],[95.5,1.071],[95.6,null],[101.5,1.317],[102.3,1.252],[103.5,1.279],[104.0,1.158],[104.5,1.003],[105.4,1.077],[106.5,1.201],[106.6,null],[120.5,1.064],[121.6,1.136],[122.6,1.071],[123.6,1.091],[124.6,1.097],[124.7,null],[129.5,0.842],[130.6,1.097],[131.4,0.976],[132.6,0.996],[133.6,0.734],[133.7,null],[155.5,0.889],[156.6,1.08],[157.5,0.959],[158.5,1.026],[159.5,1.044],[160.5,0.972],[161.5,1.266],[162.5,1.003],[162.6,null],[165.5,0.633],[166.6,0.909],[167.6,1.010],[168.5,1.084],[169.5,0.909],[170.5,1.340],[171.5,1.037],[172.6,1.084],[173.5,0.600],[174.5,0.835],[175.4,0.122],[176.4,0.115]];

const lwpAdi = [[0,1.50],[0.6,1.85],[0.7,null],[14.5,1.279],[15.3,1.249],[15.4,null],[42.6,1.241],[43.4,1.241],[44.3,1.313],[45.4,1.313],[46.2,1.241],[47.4,1.241],[47.5,null],[51.4,1.279],[52.4,1.25],[52.5,null],[57.6,1.239],[62.6,1.239],[63.5,1.279],[64.4,1.241],[65.5,1.243],[65.6,null],[71.6,1.241],[73.4,1.313],[74.5,1.241],[74.6,null],[82.6,1.239],[83.5,1.239],[84.4,1.344],[85.5,1.299],[86.5,1.241],[87.6,1.241],[87.7,null],[93.5,1.239],[95.3,1.239],[95.4,null],[101.5,1.239],[103.5,1.239],[104.5,1.313],[105.4,1.239],[106.5,1.239],[106.6,null],[120.5,1.239],[124.6,1.239],[124.7,null],[129.7,1.239],[130.6,1.239],[131.5,1.851],[132.5,1.239],[133.6,1.239],[133.7,null],[155.5,1.239],[162.5,1.239],[162.6,null],[165.5,1.239],[166.6,1.241],[167.6,1.239],[168.5,1.568],[169.5,1.521],[170.5,1.488],[171.5,1.784],[172.6,1.703],[173.5,1.804],[174.5,1.313],[175.4,1.241],[176.4,1.239]];

// isolated retrievals drawn as x markers
const lwpPhyMarks = [[11.5,1.380],[32.4,1.223],[49.5,1.150],[114.5,1.080],[118.5,1.027],[127.5,1.000]];
const lwpAdiMarks = [[11.5,1.239],[32.4,1.404],[49.5,1.239],[114.5,1.239],[118.5,1.243],[127.5,1.245]];

// uncertainty envelopes: [t, phyLo, phyHi, adiLo, adiHi]
const lwpBands = [[0,-0.1,1.6,0.636,1.6],[11,0.35,1.6,0.636,1.6],[12,0.35,1.6,0.636,1.6],[13,-0.1,1.6,0.636,1.6],[14,-0.1,1.616,0.714,1.616],[15,-0.1,1.6,0.714,1.6],[16,-0.1,1.6,0.645,1.6],[31.9,-0.1,1.62,0.943,1.70],[33.1,-0.1,1.62,0.943,1.70],[34,-0.1,1.6,0.636,1.6],[42,-0.1,1.6,0.644,1.6],[43.9,-0.1,1.6,0.644,1.6],[44.5,-0.1,1.6,0.774,1.6],[45.4,-0.1,1.6,0.774,1.6],[45.9,-0.1,1.6,0.644,1.6],[51,-0.1,1.6,0.714,1.6],[52,-0.1,1.6,0.714,1.6],[53,-0.1,1.6,0.644,1.6],[57,-0.1,1.6,0.636,1.6],[62.9,-0.1,1.6,0.636,1.6],[63.3,-0.1,1.69,0.707,1.6],[64.3,-0.1,1.6,0.636,1.6],[71.4,-0.1,1.6,0.636,1.6],[73.4,-0.1,1.643,0.774,1.643],[74.8,-0.1,1.6,0.64,1.6],[82,-0.1,1.6,0.636,1.6],[83.0,-0.1,1.62,0.636,1.6],[83.5,0.42,1.69,0.70,1.65],[84.0,-0.1,1.69,0.80,1.65],[84.4,-0.1,1.66,0.835,1.62],[85.6,-0.1,1.6,0.636,1.6],[101.0,-0.1,1.6,0.636,1.6],[101.2,-0.1,1.75,0.636,1.6],[102.0,-0.1,1.6,0.636,1.6],[103.6,-0.1,1.6,0.636,1.6],[104.5,-0.1,1.58,0.774,1.62],[105.5,-0.1,1.6,0.636,1.6],[119.5,-0.1,1.6,0.636,1.6],[120.5,-0.1,1.56,0.636,1.56],[125,-0.1,1.56,0.636,1.56],[127,-0.1,1.6,0.636,1.6],[130.3,-0.1,1.6,0.636,1.6],[131.5,-0.1,1.6,1.52,1.94],[132.6,-0.1,1.6,0.636,1.6],[160.5,-0.1,1.6,0.636,1.6],[161.5,-0.1,1.65,1.64,1.65],[162.4,-0.1,1.6,0.636,1.6],[168.0,-0.1,1.6,0.636,1.62],[168.5,-0.1,1.55,1.05,1.80],[170.0,-0.1,1.50,1.20,1.85],[170.3,0.6,1.48,1.20,1.90],[170.9,0.6,1.45,1.15,1.94],[171.2,-0.1,1.5,1.10,1.94],[172.5,-0.1,1.6,1.0,1.94],[173.8,-0.1,1.6,0.9,1.94],[174.9,-0.1,1.6,0.636,1.62],[180,-0.1,1.6,0.636,1.6]];

// ---- panel 5: Phy-Iter DQ flag, one value per minute (sample at k+0.5 min) ----
const dqFlag = [
  3,5,5,5,5,5,5,5,5,5, 5,4,5,5,0,4,5,5,5,5, 5,5,5,5,5,5,5,5,5,5,
  5,5,0,5,5,5,5,5,5,5, 5,5,4,4,0,0,4,4,5,4, 5,0,4,5,5,5,5,4,4,4,
  4,4,4,0,4,4,5,5,5,5, 5,4,0,0,0,5,5,5,5,5, 5,5,4,4,0,0,4,4,5,5,
  5,5,5,4,4,4,5,5,5,5, 5,0,4,4,0,4,4,5,5,5, 5,5,5,5,4,5,5,5,4,5,
  4,4,4,4,4,5,5,4,5,4, 4,3,4,4,5,5,5,5,5,5, 5,5,5,5,5,5,5,5,5,5,
  5,5,5,5,5,4,4,4,4,4, 4,4,4,5,5,4,4,4,0,0, 0,0,0,0,0,4,4,5,5,5
];

// ---------------------------------------------------------------
const W = 3825, H = 6000;
const plotL = 375, plotR = 3003, plotH = 907;
const tops = [296, 1421, 2546, 3671, 4796];
const FONT = '"DejaVu Sans", Verdana, sans-serif';
const AX_BLUE = '#0072bd', AX_DARK = '#262626';
const BLUE = '#0000ff', LBLUE = '#add8e6', ORANGE = '#ff8c00', PURPLE = '#800080';

const hr = m => 21 + m / 60;
const x = d3.scaleLinear().domain([21, 24]).range([plotL, plotR]);

// the figure is laid out on a 3825 x 6000 canvas and fitted to the window
const vw = window.innerWidth || W, vh = window.innerHeight || H;
const svg = d3.select('#chart').append('svg')
  .attr('width', vw).attr('height', vh)
  .attr('viewBox', `0 0 ${W} ${H}`)
  .attr('preserveAspectRatio', 'none')
  .attr('font-family', FONT);
svg.append('rect').attr('width', W).attr('height', H).attr('fill', '#fff');
const defs = svg.append('defs');

function makePanel(i, yDomain, yTicks, yLabel, labelX) {
  const top = tops[i], bottom = top + plotH;
  const y = d3.scaleLinear().domain(yDomain).range([bottom, top]);
  const g = svg.append('g');

  const xa = g.append('g').attr('transform', `translate(0,${bottom})`)
    .call(d3.axisBottom(x).tickValues(xTicks).tickFormat(d => String(d))
      .tickSizeInner(-26).tickSizeOuter(0).tickPadding(37));
  xa.select('.domain').attr('stroke', AX_DARK).attr('stroke-width', 2.5);
  xa.selectAll('.tick line').attr('stroke', AX_DARK).attr('stroke-width', 2.5);
  xa.selectAll('.tick text').attr('fill', AX_DARK).attr('font-size', 37).attr('font-family', FONT);

  const ya = g.append('g').attr('transform', `translate(${plotL},0)`)
    .call(d3.axisLeft(y).tickValues(yTicks).tickFormat(d => String(+d.toFixed(2)))
      .tickSizeInner(-26).tickSizeOuter(0).tickPadding(29));
  ya.select('.domain').attr('stroke', AX_BLUE).attr('stroke-width', 2.5);
  ya.selectAll('.tick line').attr('stroke', AX_BLUE).attr('stroke-width', 2.5);
  ya.selectAll('.tick text').attr('fill', AX_BLUE).attr('font-size', 37).attr('font-family', FONT);

  const ra = g.append('g').attr('transform', `translate(${plotR},0)`)
    .call(d3.axisRight(y).tickValues([]).tickSizeOuter(0));
  ra.select('.domain').attr('stroke', AX_BLUE).attr('stroke-width', 2.5);

  const lab = g.append('text')
    .attr('transform', `translate(${labelX},${(top + bottom) / 2}) rotate(-90)`)
    .attr('text-anchor', 'middle').attr('dominant-baseline', 'central')
    .attr('font-size', 46).attr('fill', AX_BLUE);
  if (Array.isArray(yLabel)) {
    lab.append('tspan').text(yLabel[0]);
    lab.append('tspan').attr('font-size', 30).attr('dy', -18).text(yLabel[1]);
    lab.append('tspan').attr('dy', 18).text(yLabel[2]);
  } else lab.text(yLabel);

  g.append('text').attr('x', (plotL + plotR) / 2).attr('y', bottom + 132)
    .attr('text-anchor', 'middle').attr('font-size', 46).attr('fill', AX_DARK)
    .text('UTC hours on 20250304');

  defs.append('clipPath').attr('id', `clip${i}`).append('rect')
    .attr('x', plotL).attr('y', top).attr('width', plotR - plotL).attr('height', plotH);
  const data = g.append('g').attr('clip-path', `url(#clip${i})`);
  return { g, y, data, top, bottom };
}

const lineFor = y => d3.line().defined(d => d[1] != null)
  .x(d => x(hr(d[0]))).y(d => y(d[1]));

function drawLine(parent, y, arr, color, width) {
  parent.append('path').datum(arr).attr('d', lineFor(y))
    .attr('fill', 'none').attr('stroke', color).attr('stroke-width', width)
    .attr('stroke-linejoin', 'round').attr('stroke-linecap', 'butt');
}

function drawBand(parent, y, arr) {
  parent.append('path').datum(arr)
    .attr('d', d3.area().x(d => x(hr(d[0]))).y0(d => y(d[1] - d[2])).y1(d => y(d[1] + d[2])))
    .attr('fill', ORANGE).attr('fill-opacity', 0.2);
}

function shade(g, P, spans, color, alpha) {
  g.append('g').selectAll('rect').data(spans).join('rect')
    .attr('x', d => x(hr(d[0]))).attr('width', d => x(hr(d[1])) - x(hr(d[0])))
    .attr('y', P.top).attr('height', P.bottom - P.top + 7)
    .attr('fill', color).attr('fill-opacity', alpha);
}

function legend(g, x0, x1, tx, rows) {
  rows.forEach(r => {
    if (r.color) g.append('line').attr('x1', x0).attr('x2', x1).attr('y1', r.ly).attr('y2', r.ly)
      .attr('stroke', r.color).attr('stroke-width', r.w);
    r.text.forEach((t, j) => g.append('text').attr('x', tx).attr('y', r.ty[j])
      .attr('dominant-baseline', 'central').attr('font-size', 38).attr('fill', '#000').text(t));
  });
}

// ---- panel 1 ----
{
  const P = makePanel(0, [30.13, 35.97], [31, 32, 33, 34, 35], 'Zenith BT 23 GHz, K', 242);
  drawBand(P.data, P.y, p1Phy);
  drawLine(P.data, P.y, p1Mwr3c, LBLUE, 3.5);
  drawLine(P.data, P.y, p1Mwr2c, BLUE, 3.5);
  drawLine(P.data, P.y, p1Phy, ORANGE, 8);
  shade(P.g, P, wetWindow, 'rgb(210,180,140)', 0.5);
  legend(P.g, 627, 861, 885, [
    { color: BLUE, w: 3.5, ly: 392, ty: [392], text: ['MWR 2C (tan = wet window)'] },
    { color: LBLUE, w: 3.5, ly: 451, ty: [451], text: ['MWR 3C'] },
    { color: ORANGE, w: 8, ly: 510, ty: [510], text: ['Phy-Iter'] }
  ]);
}

// ---- panel 2 ----
{
  const P = makePanel(1, [17.55, 22.11], [18, 18.5, 19, 19.5, 20, 20.5, 21, 21.5, 22], 'Zenith BT 31 GHz, K', 203);
  drawBand(P.data, P.y, p2Phy);
  drawLine(P.data, P.y, p2Mwr3c, LBLUE, 3.5);
  drawLine(P.data, P.y, p2Mwr2c, BLUE, 3.5);
  drawLine(P.data, P.y, p2Phy, ORANGE, 8);
  legend(P.g, 1807, 2040, 2066, [
    { color: BLUE, w: 3.5, ly: 1519, ty: [1519], text: ['MWR2C'] },
    { color: LBLUE, w: 3.5, ly: 1578, ty: [1578], text: ['MWR 3C'] },
    { color: ORANGE, w: 8, ly: 1636, ty: [1636], text: ['Phy-Iter'] }
  ]);
}

// ---- panel 3 ----
{
  const P = makePanel(2, [1.609, 2.044], [1.65, 1.7, 1.75, 1.8, 1.85, 1.9, 1.95, 2], 'Precip. Water Vapor, mm', 205);
  drawBand(P.data, P.y, p3Phy);
  drawLine(P.data, P.y, p3Mwr3c, LBLUE, 3.5);
  drawLine(P.data, P.y, p3Mwr2c, BLUE, 3.5);
  drawLine(P.data, P.y, p3Phy, ORANGE, 8);
  shade(P.g, P, mwr2cOnly, 'rgb(210,180,140)', 0.5);
  legend(P.g, 1354, 1586, 1611, [
    { color: BLUE, w: 3.5, ly: 2611, ty: [2611], text: ['MWR 2C PWV'] },
    { color: LBLUE, w: 3.5, ly: 2669, ty: [2669], text: ['MWR 3C PWV'] },
    { color: ORANGE, w: 8, ly: 2756, ty: [2727, 2784], text: ['Phy-Iter PWV', '(tan = MWR 2C only)'] }
  ]);
}

// ---- panel 4 ----
{
  const P = makePanel(3, [0.025, 1.941], [0.2, 0.4, 0.6, 0.8, 1, 1.2, 1.4, 1.6, 1.8],
    ['log10 Liquid Water Path, log10(g/m', '2', ')'], 234);

  // sky category runs from the DQ flags: 5 = clear (yellow), 3/4 = grey, 0 = none
  const runs = [];
  for (let k = 0; k < dqFlag.length - 1; k++) {
    const cat = dqFlag[k] === 5 ? 'clear' : (dqFlag[k] === 0 ? 'open' : 'grey');
    const last = runs[runs.length - 1];
    if (last && last.cat === cat && last.b === k) last.b = k + 1;
    else runs.push({ a: k, b: k + 1, cat });
  }
  const cloudy = runs.filter(r => r.cat !== 'clear');

  const cp = defs.append('clipPath').attr('id', 'cloudClip');
  cp.selectAll('rect').data(cloudy).join('rect')
    .attr('x', d => x(hr(d.a))).attr('width', d => x(hr(d.b)) - x(hr(d.a)))
    .attr('y', P.top).attr('height', plotH);

  const bandG = P.data.append('g').attr('clip-path', 'url(#cloudClip)');
  bandG.append('path').datum(lwpBands)
    .attr('d', d3.area().x(d => x(hr(d[0]))).y0(d => P.y(d[1])).y1(d => P.y(d[2])))
    .attr('fill', ORANGE).attr('fill-opacity', 0.2);
  bandG.append('path').datum(lwpBands)
    .attr('d', d3.area().x(d => x(hr(d[0]))).y0(d => P.y(d[3])).y1(d => P.y(d[4])))
    .attr('fill', PURPLE).attr('fill-opacity', 0.2);

  drawLine(P.data, P.y, lwp3c, LBLUE, 3.5);
  drawLine(P.data, P.y, lwp2c, BLUE, 3.5);
  drawLine(P.data, P.y, lwpPhy, ORANGE, 8);
  drawLine(P.data, P.y, lwpAdi, PURPLE, 3.5);

  const s = 12;
  const xPath = `M${-s},${-s}L${s},${s}M${-s},${s}L${s},${-s}`;
  P.data.append('g').selectAll('path').data(lwpPhyMarks).join('path')
    .attr('transform', d => `translate(${x(hr(d[0]))},${P.y(d[1])})`)
    .attr('d', xPath).attr('stroke', '#ffa31a').attr('stroke-width', 6).attr('fill', 'none');
  P.data.append('g').selectAll('path').data(lwpAdiMarks).join('path')
    .attr('transform', d => `translate(${x(hr(d[0]))},${P.y(d[1])})`)
    .attr('d', xPath).attr('stroke', PURPLE).attr('stroke-width', 6).attr('fill', 'none');

  shade(P.g, P, runs.filter(r => r.cat === 'clear').map(r => [r.a, r.b]), 'rgb(255,255,0)', 0.5);
  shade(P.g, P, runs.filter(r => r.cat === 'grey').map(r => [r.a, r.b]), 'rgb(204,204,204)', 0.5);

  legend(P.g, 548, 781, 807, [
    { color: BLUE, w: 3.5, ly: 4338, ty: [4338], text: ['MWR 2C LWP'] },
    { color: LBLUE, w: 3.5, ly: 4395, ty: [4395], text: ['MWR 3C LWP'] },
    { color: ORANGE, w: 8, ly: 4452, ty: [4452], text: ['Phy-Iter LWP'] },
    { color: PURPLE, w: 3.5, ly: 4510, ty: [4510], text: ['Adiabatic LWP'] }
  ]);
}

// ---- panel 5 ----
{
  const P = makePanel(4, [-0.51, 11.52], [0, 2, 4, 6, 8, 10], 'MWR Phy Iter DQ Flag', 242);
  P.data.append('g').selectAll('circle').data(dqFlag).join('circle')
    .attr('cx', (d, k) => x(hr(k + 0.5))).attr('cy', d => P.y(d))
    .attr('r', 4).attr('fill', ORANGE);
}
</script>
</body>
</html>
